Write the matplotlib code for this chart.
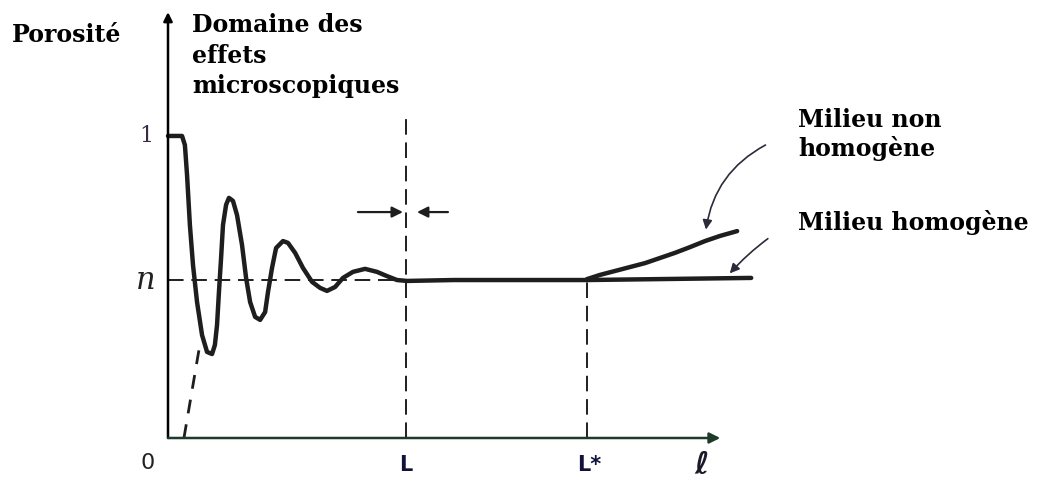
"""
Schéma : porosité en fonction de l'échelle d'observation (VER).
"""
import matplotlib
matplotlib.use('Agg')
import matplotlib.pyplot as plt

# echelle en abscisse : L = 10 ; porosite en ordonnee (1 = tout vide)
L_val = 10.0
L_star = 17.6
n_val = 0.523

ell_curve = [0.0, 0.29, 0.59, 0.71, 0.80, 0.92, 1.05, 1.22, 1.43, 1.64, 1.85, 1.97,
             2.06, 2.14, 2.23, 2.31, 2.44, 2.56, 2.73, 2.90, 3.11, 3.28, 3.45, 3.66,
             3.87, 4.08, 4.20, 4.37, 4.54, 4.83, 5.04, 5.34, 5.67, 6.05, 6.39, 6.68,
             7.02, 7.35, 7.77, 8.28, 8.78, 9.20, 9.62, 10.04, 12.0, 14.0, 16.0, 17.6]
phi_curve = [1.0, 1.0, 1.0, 0.970, 0.871, 0.705, 0.573, 0.450, 0.341, 0.285, 0.278, 0.308,
             0.374, 0.483, 0.596, 0.705, 0.772, 0.795, 0.785, 0.738, 0.639, 0.530, 0.450, 0.401,
             0.391, 0.417, 0.483, 0.563, 0.629, 0.652, 0.646, 0.613, 0.563, 0.517, 0.497, 0.487,
             0.500, 0.530, 0.550, 0.560, 0.550, 0.536, 0.523, 0.520, 0.523, 0.523, 0.523, 0.523]

# branche milieu non homogene
ell_nonhom = [17.6, 18.15, 18.78, 19.41, 20.04, 20.67, 21.30, 21.93, 22.56, 23.19, 23.91]
phi_nonhom = [0.526, 0.540, 0.553, 0.566, 0.579, 0.596, 0.613, 0.632, 0.652, 0.669, 0.685]

# branche milieu homogene
ell_hom = [17.6, 24.5]
phi_hom = [0.523, 0.53]

# prolongement pointille vers l'origine
ell_ext = [0.67, 1.34]
phi_ext = [0.0, 0.31]

W, H = 1038, 483
fig = plt.figure(figsize=(W / 100, H / 100), dpi=100)
ax = fig.add_axes([168 / W, 1 - 438 / H, (760 - 168) / W, (438 - 10) / H])
ax.set_xlim(0, 24.87)
ax.set_ylim(0, 1.417)
ax.axis('off')

ink = '#1e1e1e'
serif_b = dict(family='DejaVu Serif', fontweight='bold', fontsize=17, color='black')

# axes avec fleches
ax.annotate('', xy=(0, 1.41), xytext=(0, 0), annotation_clip=False,
            arrowprops=dict(arrowstyle='-|>', lw=1.8, color='black',
                            mutation_scale=13, shrinkA=0, shrinkB=0))
ax.annotate('', xy=(23.2, 0), xytext=(0, 0), annotation_clip=False,
            arrowprops=dict(arrowstyle='-|>', lw=1.8, color='#1f3a2a',
                            mutation_scale=16, shrinkA=0, shrinkB=0))

# lignes pointillees
dash = (0, (8, 4))
ax.plot([0, L_val], [n_val, n_val], color=ink, lw=1.4, linestyle=dash)
ax.plot([L_val, L_val], [0, 1.06], color=ink, lw=1.4, linestyle=dash)
ax.plot([L_star, L_star], [0, n_val], color=ink, lw=1.4, linestyle=dash)
ax.plot(ell_ext, phi_ext, color=ink, lw=2.0, linestyle=(0, (5, 4)))

# courbes
line_kw = dict(color=ink, lw=3.2, solid_capstyle='round', solid_joinstyle='round',
               clip_on=False)
ax.plot(ell_curve, phi_curve, **line_kw)
ax.plot(ell_nonhom, phi_nonhom, **line_kw)
ax.plot(ell_hom, phi_hom, **line_kw)

# fleches convergentes sur L
y_arr = 0.748
ax.annotate('', xy=(9.87, y_arr), xytext=(7.98, y_arr),
            arrowprops=dict(arrowstyle='-|>', lw=1.6, color=ink,
                            mutation_scale=16, shrinkA=0, shrinkB=0))
ax.annotate('', xy=(10.46, y_arr), xytext=(11.76, y_arr),
            arrowprops=dict(arrowstyle='-|>', lw=1.6, color=ink,
                            mutation_scale=16, shrinkA=0, shrinkB=0))

# fleches d'annotation
ax.annotate('', xy=(22.6, 0.69), xytext=(25.1, 0.97), annotation_clip=False,
            arrowprops=dict(arrowstyle='-|>', lw=1.2, color='#2b2b3a',
                            mutation_scale=14, shrinkA=0, shrinkB=0,
                            connectionstyle='arc3,rad=0.25'))
ax.annotate('', xy=(23.6, 0.545), xytext=(25.2, 0.66), annotation_clip=False,
            arrowprops=dict(arrowstyle='-|>', lw=1.2, color='#2b2b3a',
                            mutation_scale=14, shrinkA=0, shrinkB=0,
                            connectionstyle='arc3,rad=0.05'))

# graduations
ax.text(-0.9, 1.0, '1', family='DejaVu Serif', fontsize=16, color='#3a2a45',
        ha='center', va='center', clip_on=False)
ax.text(-0.95, n_val, 'n', family='DejaVu Serif', style='italic', fontsize=22,
        color='#222222', ha='center', va='center', clip_on=False)
ax.text(-0.85, -0.083, '0', family='DejaVu Sans', fontsize=16, color='#222222',
        ha='center', va='center', clip_on=False)
ax.text(L_val, -0.09, 'L', family='DejaVu Sans', fontweight='bold', fontsize=15,
        color='#10123a', ha='center', va='center', clip_on=False)
ax.text(L_star + 0.1, -0.09, 'L*', family='DejaVu Sans', fontweight='bold', fontsize=15,
        color='#10123a', ha='center', va='center', clip_on=False)
ax.text(22.4, -0.09, 'ℓ', family='DejaVu Sans', fontweight='bold', fontsize=22,
        color='#1a1a2a', ha='center', va='center', clip_on=False)

# textes
fig.text(12 / W, 1 - 42 / H, 'Porosité', ha='left', va='baseline', **serif_b)
fig.text(192 / W, 1 - 32 / H, 'Domaine des', ha='left', va='baseline', **serif_b)
fig.text(192 / W, 1 - 63 / H, 'effets', ha='left', va='baseline', **serif_b)
fig.text(192 / W, 1 - 93 / H, 'microscopiques', ha='left', va='baseline', **serif_b)
fig.text(798 / W, 1 - 127 / H, 'Milieu non', ha='left', va='baseline', **serif_b)
fig.text(798 / W, 1 - 156 / H, 'homogène', ha='left', va='baseline', **serif_b)
fig.text(798 / W, 1 - 230 / H, 'Milieu homogène', ha='left', va='baseline', **serif_b)

fig.savefig('out.png', dpi=100)
